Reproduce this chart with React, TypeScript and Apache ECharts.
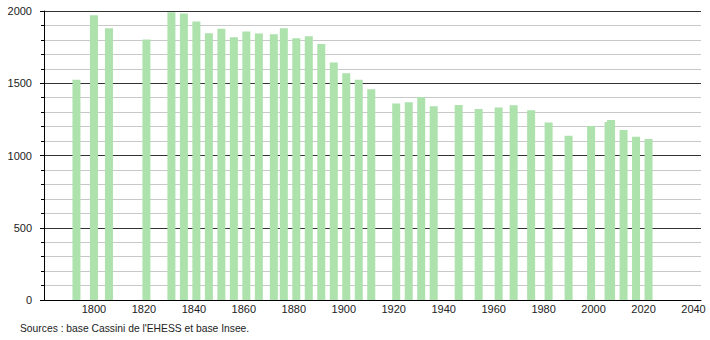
import React, { useEffect, useRef } from "react";
import * as echarts from "echarts";

const years = [
  1793, 1800, 1806, 1821, 1831, 1836, 1841, 1846, 1851, 1856, 1861, 1866, 1872, 1876,
  1881, 1886, 1891, 1896, 1901, 1906, 1911, 1921, 1926, 1931, 1936, 1946, 1954, 1962,
  1968, 1975, 1982, 1990, 1999, 2006, 2007, 2012, 2017, 2022,
];
const population = [
  1525, 1970, 1880, 1802, 1991, 1982, 1927, 1846, 1878, 1818, 1858, 1844, 1839, 1880,
  1811, 1825, 1772, 1644, 1570, 1524, 1459, 1360, 1369, 1404, 1340, 1349, 1321, 1333,
  1347, 1314, 1229, 1137, 1204, 1232, 1245, 1176, 1130, 1114,
];
const sourceText = "Sources : base Cassini de l'EHESS et base Insee.";

export default function App() {
  const ref = useRef<HTMLDivElement>(null);
  useEffect(() => {
    if (!ref.current) return;
    const chart = echarts.init(ref.current, undefined, { renderer: "svg" });
    const font = "'Liberation Sans', Arial, sans-serif";
    chart.setOption({
      animation: false,
      backgroundColor: "#ffffff",
      grid: { left: 44, right: 9, top: 11, bottom: 40, containLabel: false },
      xAxis: {
        type: "value",
        min: 1780,
        max: 2043,
        interval: 20,
        axisLine: { show: true, onZero: false, lineStyle: { color: "#000", width: 1 } },
        axisTick: { show: false },
        splitLine: { show: false },
        axisLabel: {
          margin: 3,
          color: "#222",
          fontSize: 11,
          fontFamily: font,
          showMaxLabel: false,
          hideOverlap: false,
          formatter: (v: number) => (v < 1800 ? "" : String(v)),
        },
      },
      yAxis: {
        type: "value",
        min: 0,
        max: 2000,
        interval: 500,
        axisLine: { show: true, lineStyle: { color: "#000", width: 1 } },
        axisTick: { show: true, length: 4, lineStyle: { color: "#000" } },
        minorTick: { show: true, splitNumber: 5, length: 3, lineStyle: { color: "#000" } },
        splitLine: { show: true, lineStyle: { color: "#333", width: 1 } },
        minorSplitLine: { show: true, lineStyle: { color: "#c8c8c8", width: 1 } },
        axisLabel: {
          margin: 12,
          color: "#222",
          fontSize: 11,
          fontFamily: font,
          formatter: (v: number) => String(v),
        },
      },
      series: [
        {
          type: "bar",
          barWidth: 8,
          itemStyle: { color: "#ade2ad" },
          data: years.map((y, i) => [y, population[i]]),
        },
      ],
      graphic: [
        {
          type: "text",
          left: 20,
          top: 323,
          style: { text: sourceText, fontSize: 10.3, fontFamily: font, fill: "#222" },
        },
      ],
    });
    return () => chart.dispose();
  }, []);
  return (
    <div
      ref={ref}
      style={{ position: "absolute", left: 0, top: 0, width: 710, height: 340 }}
    />
  );
}
